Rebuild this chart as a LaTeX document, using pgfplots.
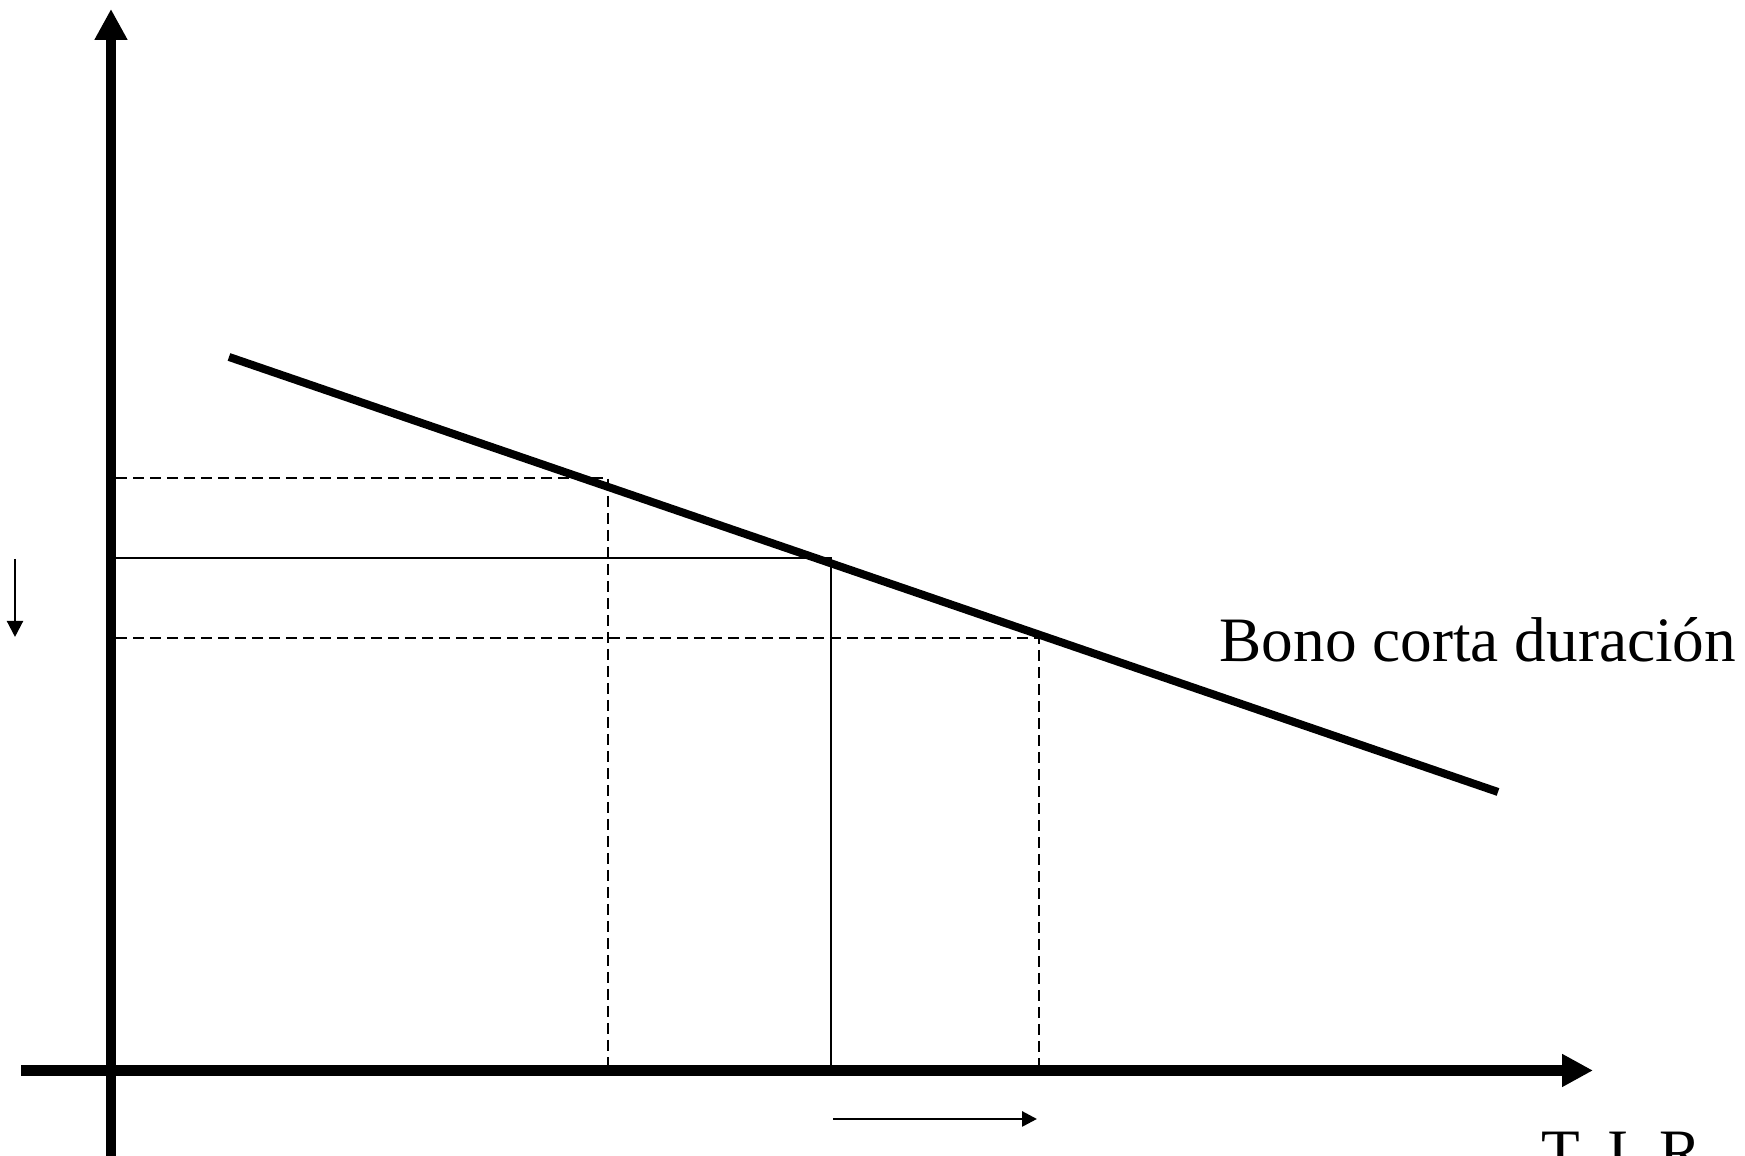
\documentclass[border=0pt]{standalone}
\usepackage{fontspec}
\setmainfont{Liberation Serif}
\usepackage{pgfplots}
\pgfplotsset{compat=1.18}
\usetikzlibrary{arrows.meta}

\begin{document}
\begin{tikzpicture}
\begin{axis}[
  at={(0,0)}, anchor=south west,
  width=17.45cm, height=11.56cm, scale only axis,
  xmin=0, xmax=1745, ymin=0, ymax=1156,
  axis lines=none, clip=false,
  every axis plot/.append style={black, mark=none},
]
% axes
\addplot[line width=0.1cm, -{Triangle[length=0.31cm,width=0.31cm]}]
  coordinates {(111,-20) (111,1147)};
\addplot[line width=0.105cm, -{Triangle[length=0.31cm,width=0.31cm]}]
  coordinates {(21,85.5) (1593,85.5)};

% price-yield line of the short-duration bond
\addplot[line width=0.08cm] coordinates {(229,799) (1498,364)};

% reference levels
\addplot[line width=0.025cm, dash pattern=on 0.11cm off 0.06cm]
  coordinates {(116,678) (608,678) (608,85.5)};
\addplot[line width=0.025cm]
  coordinates {(116,598) (831,598) (831,85.5)};
\addplot[line width=0.025cm, dash pattern=on 0.11cm off 0.06cm]
  coordinates {(116,518) (1039,518) (1039,85.5)};

% direction arrows
\addplot[line width=0.022cm, -{Triangle[length=0.16cm,width=0.16cm]}]
  coordinates {(15,597) (15,519)};
\addplot[line width=0.028cm, -{Triangle[length=0.15cm,width=0.15cm]}]
  coordinates {(833,37) (1037,37)};

\node[anchor=base west, inner sep=0pt, font=\fontsize{18}{21}\selectfont]
  at (axis cs:1219,494) {Bono corta duración};
\node[anchor=base west, inner sep=0pt, font=\fontsize{18}{21}\selectfont]
  at (axis cs:1541,-18) {T. I. R.};
\end{axis}
\pgfresetboundingbox
\useasboundingbox (0,0) rectangle (17.45cm,11.56cm);
\end{tikzpicture}
\end{document}
